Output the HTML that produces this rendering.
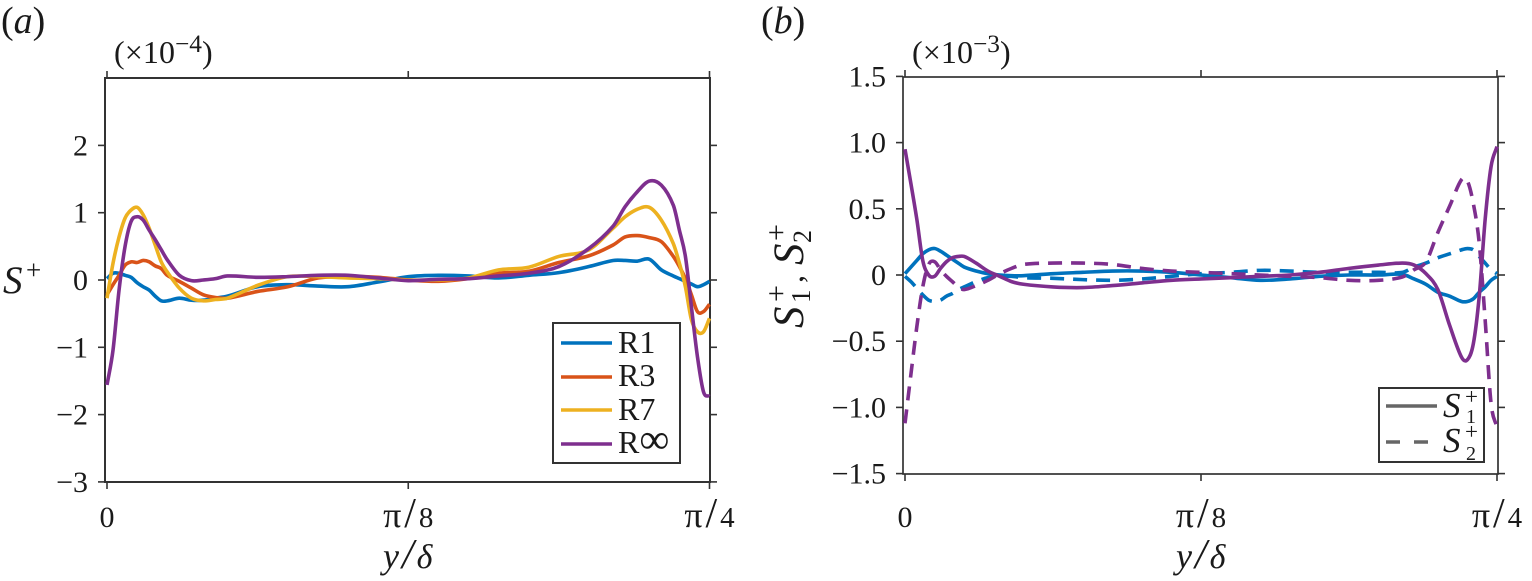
<!DOCTYPE html>
<html>
<head>
<meta charset="utf-8">
<title>S+ profiles</title>
<style>
html,body{margin:0;padding:0;background:#fff;width:1532px;height:581px;overflow:hidden}
svg{display:block}
text{font-family:"Liberation Serif","DejaVu Serif",serif;fill:#1a1a1a}
.t{font-size:30px}
.i{font-style:italic}
</style>
</head>
<body>
<svg id="fig" width="1532" height="581" viewBox="0 0 1532 581" xmlns="http://www.w3.org/2000/svg">
  <text x="1" y="33" style="font-size:38px">(<tspan class="i">a</tspan>)</text>
  <text x="761" y="33" style="font-size:38px">(<tspan class="i">b</tspan>)</text>

  <g>
    <text x="114" y="63" class="t" style="font-size:32px" textLength="61">(×10</text>
    <text x="175" y="52" style="font-size:25px" textLength="27" lengthAdjust="spacingAndGlyphs">−4</text>
    <text x="202" y="63" class="t" style="font-size:32px">)</text>
  </g>
  <g>
    <text x="912" y="63" class="t" style="font-size:32px" textLength="61">(×10</text>
    <text x="973" y="52" style="font-size:25px" textLength="27" lengthAdjust="spacingAndGlyphs">−3</text>
    <text x="1000" y="63" class="t" style="font-size:32px">)</text>
  </g>

  <g>
    <text x="3" y="293" class="i" style="font-size:39px">S</text>
    <text x="26" y="279" style="font-size:27px">+</text>
  </g>
  <text x="383" y="568" class="i" style="font-size:36px">y<tspan dx="3" style="font-size:42px">/</tspan><tspan dx="3" style="font-size:34px">δ</tspan></text>
  <text x="1176" y="568" class="i" style="font-size:36px">y<tspan dx="3" style="font-size:42px">/</tspan><tspan dx="3" style="font-size:34px">δ</tspan></text>

  <g transform="translate(803,328) rotate(-90)">
    <text x="0" y="0" class="i" style="font-size:43px">S</text>
    <text x="26" y="-17" style="font-size:30px">+</text>
    <text x="25" y="7" style="font-size:27px">1</text>
    <text x="45" y="0" style="font-size:32px">,</text>
    <text x="63" y="0" class="i" style="font-size:43px">S</text>
    <text x="87" y="-17" style="font-size:30px">+</text>
    <text x="85" y="8" style="font-size:26px">2</text>
  </g>

  <g id="plotA"></g>
  <g id="plotB"></g>

  <g>
    <rect x="553" y="323" width="127" height="140" fill="#fff" stroke="#333" stroke-width="2"/>
    <line x1="561" x2="612" y1="343" y2="343" stroke="#0072BD" stroke-width="3.6"/>
    <text x="618" y="353" style="font-size:32px">R1</text>
    <line x1="561" x2="612" y1="377" y2="377" stroke="#D95319" stroke-width="3.6"/>
    <text x="618" y="386" style="font-size:32px">R3</text>
    <line x1="561" x2="612" y1="410" y2="410" stroke="#EDB120" stroke-width="3.6"/>
    <text x="618" y="420" style="font-size:32px">R7</text>
    <line x1="561" x2="612" y1="444" y2="444" stroke="#7E2F8E" stroke-width="3.6"/>
    <text x="618" y="453" style="font-size:32px">R<tspan style="font-size:42px">∞</tspan></text>
  </g>

  <g>
    <rect x="1379" y="388" width="105" height="74" fill="#fff" stroke="#333" stroke-width="2"/>
    <line x1="1386" x2="1437" y1="406" y2="406" stroke="#666" stroke-width="3.6"/>
    <text x="1443" y="417" class="i" style="font-size:35px">S</text>
    <text x="1465" y="404" style="font-size:23px">+</text>
    <text x="1466" y="423" style="font-size:20px">1</text>
    <line x1="1386" x2="1428" y1="442" y2="442" stroke="#666" stroke-width="3.6" stroke-dasharray="14 14"/>
    <text x="1443" y="452" class="i" style="font-size:35px">S</text>
    <text x="1465" y="439" style="font-size:23px">+</text>
    <text x="1466" y="460" style="font-size:20px">2</text>
  </g>
</svg>
<script>
const xGridA = [0,.01,.02,.03,.04,.05,.06,.07,.08,.09,.10,.12,.14,.16,.18,.20,.25,.30,.35,.40,.45,.50,.55,.60,.65,.70,.75,.80,.84,.86,.88,.90,.92,.94,.95,.96,.97,.98,.99,1];
const seriesR1 = [.02,.10,.10,.07,.04,-.04,-.10,-.15,-.24,-.31,-.31,-.27,-.30,-.30,-.27,-.24,-.10,-.07,-.09,-.10,-.03,.05,.07,.06,.03,.07,.11,.20,.29,.29,.28,.31,.15,.06,.02,-.02,-.06,-.10,-.07,-.02];
const seriesR3 = [-.22,-.07,.07,.22,.27,.26,.29,.27,.21,.17,.07,-.02,-.12,-.22,-.26,-.27,-.17,-.10,.03,.05,.04,0,-.02,.02,.10,.13,.26,.36,.52,.64,.66,.63,.57,.35,.20,.02,-.22,-.47,-.47,-.36];
const seriesR7 = [-.27,.25,.64,.92,1.04,1.08,.97,.77,.52,.27,.12,-.12,-.27,-.31,-.29,-.27,-.08,.05,.05,.03,.02,0,0,.03,.15,.19,.35,.45,.77,.94,1.05,1.08,.89,.54,.25,-.10,-.59,-.77,-.77,-.57];
const seriesRInf = [-1.56,-1.04,-.15,.50,.87,.94,.89,.74,.60,.45,.30,.07,-.01,0,.02,.06,.04,.05,.07,.07,.03,-.01,.01,.02,.06,.10,.20,.47,.80,1.09,1.31,1.47,1.41,1.11,.74,.35,-.40,-1.14,-1.66,-1.73];
const yTicksA = [2,1,0,-1,-2,-3];
const yTickLabelsA = ["2","1","0","−1","−2","−3"];
const xTicks = [0,.5,1];
const xTickLabels = ["0","π/8","π/4"];

const xGridB = [0,.01,.02,.03,.04,.05,.06,.07,.08,.09,.10,.12,.14,.16,.18,.20,.25,.30,.35,.40,.45,.50,.55,.60,.65,.70,.75,.80,.84,.86,.88,.90,.92,.94,.95,.96,.97,.98,.99,1];
const s1Blue = [.01,.06,.11,.16,.19,.20,.18,.15,.12,.09,.06,.03,.01,0,-.005,-.005,.01,.02,.03,.03,.02,0,-.02,-.04,-.03,-.01,0,0,.005,-.03,-.07,-.13,-.16,-.20,-.20,-.18,-.13,-.09,-.04,-.01];
const s2Blue = [-.01,-.05,-.10,-.15,-.19,-.20,-.19,-.16,-.14,-.11,-.09,-.05,-.02,-.01,-.01,-.02,-.025,-.035,-.04,-.03,-.01,.01,.02,.035,.03,.02,.02,.02,.02,.06,.09,.13,.16,.19,.20,.19,.14,.09,.04,.01];
const s1Purple = [.95,.69,.42,.11,0,-.01,.05,.10,.13,.14,.14,.09,.03,-.01,-.05,-.07,-.09,-.095,-.08,-.06,-.04,-.03,-.02,-.01,0,.02,.05,.075,.09,.075,.01,-.11,-.38,-.62,-.64,-.52,-.16,.42,.82,.97];
const s2Purple = [-1.12,-.75,-.39,-.09,.08,.10,.04,-.01,-.05,-.09,-.11,-.08,-.04,.01,.05,.08,.09,.09,.08,.05,.03,.02,.01,0,-.01,-.02,-.04,-.04,-.015,.04,.10,.32,.52,.72,.71,.54,.24,-.34,-.97,-1.15];
const yTicksB = [1.5,1,.5,0,-.5,-1,-1.5];
const yTickLabelsB = ["1.5","1.0","0.5","0","−0.5","−1.0","−1.5"];

const NS = "http://www.w3.org/2000/svg";
function el(parent, tag, attrs, text){
  const e = document.createElementNS(NS, tag);
  for (const k in attrs) e.setAttribute(k, attrs[k]);
  if (text !== undefined) e.textContent = text;
  parent.appendChild(e);
  return e;
}
function smoothPath(xs, ys, sx, sy){
  const P = xs.map((x,i)=>[sx(x), sy(ys[i])]);
  const n = P.length, m = [];
  for (let i=0;i<n;i++){
    const a = P[Math.max(i-1,0)], b = P[Math.min(i+1,n-1)];
    m.push((b[1]-a[1])/(b[0]-a[0]));
  }
  let d = "M"+P[0][0].toFixed(2)+" "+P[0][1].toFixed(2);
  for (let i=0;i<n-1;i++){
    const h = (P[i+1][0]-P[i][0])/3;
    d += "C"+(P[i][0]+h).toFixed(2)+" "+(P[i][1]+m[i]*h).toFixed(2)+" "+(P[i+1][0]-h).toFixed(2)+" "+(P[i+1][1]-m[i+1]*h).toFixed(2)+" "+P[i+1][0].toFixed(2)+" "+P[i+1][1].toFixed(2);
  }
  return d;
}
function axes(g, o){
  const c = "#333";
  const box = el(g, "rect", {x:o.left, y:o.top, width:o.right-o.left, height:o.bottom-o.top, fill:"none", stroke:c, "stroke-width":o.sw});
  
  
  o.yTicks.forEach((v,i)=>{
    const y = o.sy(v);
    const tl = el(g, "line", {x1:o.left-7, x2:o.left, y1:y, y2:y, stroke:c, "stroke-width":1.6});
    
    
    const tr = el(g, "line", {x1:o.right, x2:o.right+7, y1:y, y2:y, stroke:c, "stroke-width":1.6});
    
    
    const lb = el(g, "text", {x:o.left-17, y:y+10, "text-anchor":"end", class:"t"}, o.yLabels[i]);
    
    
  });
  xTicks.forEach((v,i)=>{
    const x = o.sx(v);
    const tb = el(g, "line", {x1:x, x2:x, y1:o.bottom, y2:o.bottom+7, stroke:c, "stroke-width":1.6});
    
    
    const tt = el(g, "line", {x1:x, x2:x, y1:o.top-7, y2:o.top, stroke:c, "stroke-width":1.6});
    
    
    const lb = el(g, "text", {x:x, y:527, "text-anchor":"middle", class:"t"});
    const chars = Array.from(xTickLabels[i]);
    const sizes = chars.length === 3 ? [36, 42, 29] : [30];
    chars.forEach((ch, k) => {
      const sp = el(lb, "tspan", {style:"font-size:"+sizes[k]+"px"}, ch);
      if (k) sp.setAttribute("dx", 3);
    });
    
    
  });
}
const ax = v => 107 + v*602.5;
const ay = v => 280 - v*67.3;
const bx = v => 905 + v*592;
const by = v => 275 - v*132.4;

const gA = document.getElementById("plotA");
axes(gA, {left:105, right:710, top:78, bottom:482, sw:2, sx:ax, sy:ay, yTicks:yTicksA, yLabels:yTickLabelsA});
const gB = document.getElementById("plotB");
axes(gB, {left:903, right:1498, top:77, bottom:474, sw:1.7, sx:bx, sy:by, yTicks:yTicksB, yLabels:yTickLabelsB});

function line(g, xs, ys, sx, sy, color, dash){
  const p = el(g, "path", {d:smoothPath(xs, ys, sx, sy), fill:"none", stroke:color, "stroke-width":3.6, "stroke-linejoin":"round"});
  if (dash) p.setAttribute("stroke-dasharray", dash);
  return p;
}
const l1 = line(gA, xGridA, seriesR1, ax, ay, "#0072BD");


const l3 = line(gA, xGridA, seriesR3, ax, ay, "#D95319");


const l7 = line(gA, xGridA, seriesR7, ax, ay, "#EDB120");


const lInf = line(gA, xGridA, seriesRInf, ax, ay, "#7E2F8E");



const b1 = line(gB, xGridB, s1Blue, bx, by, "#0072BD");


const b2 = line(gB, xGridB, s2Blue, bx, by, "#0072BD", "14 9");


const b3 = line(gB, xGridB, s1Purple, bx, by, "#7E2F8E");


const b4 = line(gB, xGridB, s2Purple, bx, by, "#7E2F8E", "14 9");


</script>
</body>
</html>
